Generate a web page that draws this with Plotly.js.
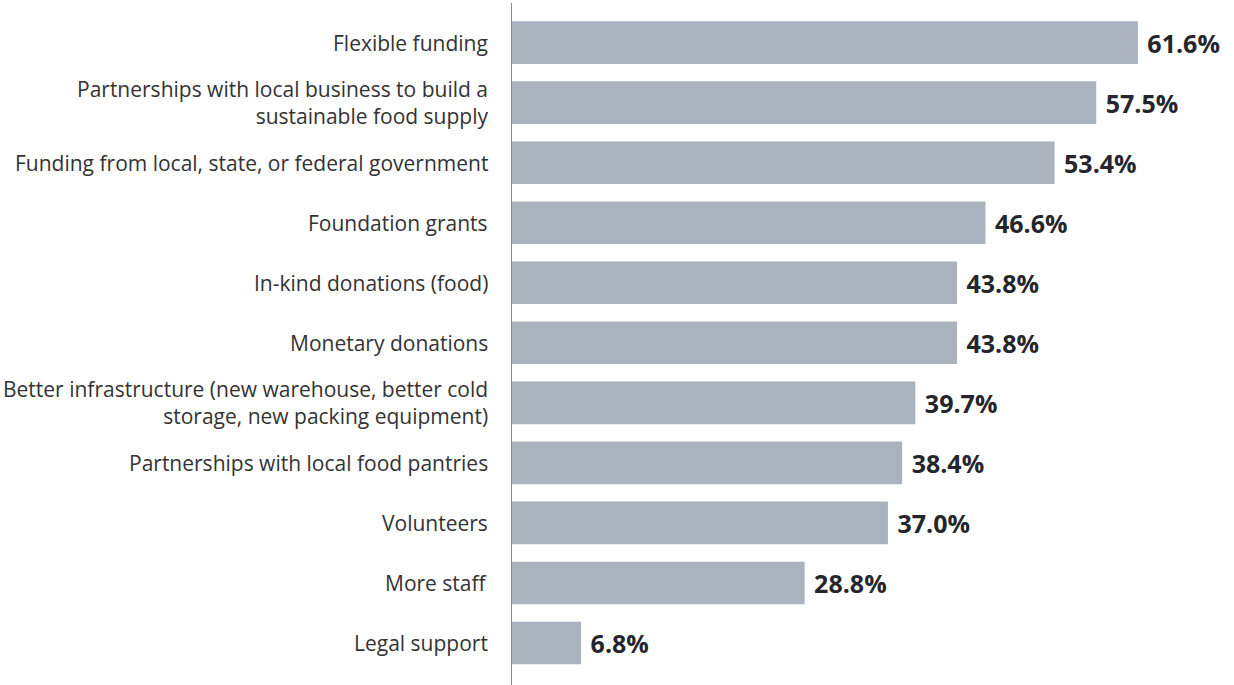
<!DOCTYPE html>
<html>
<head>
<meta charset="utf-8">
<script src="https://cdn.plot.ly/plotly-3.0.1.min.js"></script>
<style>html,body{margin:0;padding:0;background:#fff;}#chart{width:1234px;height:685px;}</style>
</head>
<body>
<div id="chart"></div>
<script>
const categories = [
  "Flexible funding",
  "Partnerships with local business to build a<br>sustainable food supply",
  "Funding from local, state, or federal government",
  "Foundation grants",
  "In-kind donations (food)",
  "Monetary donations",
  "Better infrastructure (new warehouse, better cold<br>storage, new packing equipment)",
  "Partnerships with local food pantries",
  "Volunteers",
  "More staff",
  "Legal support"
];
const values = [61.6, 57.5, 53.4, 46.6, 43.8, 43.8, 39.7, 38.4, 37.0, 28.8, 6.8];

const trace = {
  type: 'bar',
  orientation: 'h',
  y: categories,
  x: values,
  marker: {color: '#aab3bd'},
  text: values.map(v => '\u00a0' + v.toFixed(1) + '%'),
  textposition: 'outside',
  constraintext: 'none',
  cliponaxis: false,
  textfont: {family: 'Open Sans', size: 25, color: '#25262b', weight: 'bold'},
  hoverinfo: 'none'
};

// Category labels as right-aligned annotations next to the axis line
const annotations = categories.map(cat => ({
  xref: 'x', yref: 'y', x: 0, y: cat,
  xanchor: 'right', yanchor: 'middle', align: 'right',
  xshift: -22,
  text: cat, showarrow: false,
  font: {family: 'Open Sans', size: 21, color: '#333'}
}));

const layout = {
  width: 1234, height: 685,
  margin: {l: 512, r: 0, t: 3, b: 0},
  paper_bgcolor: '#fff', plot_bgcolor: '#fff',
  showlegend: false,
  bargap: 0.29,
  font: {family: 'Open Sans', color: '#333'},
  xaxis: {range: [0, 71.06], visible: false, showgrid: false, zeroline: false},
  yaxis: {
    type: 'category',
    range: [10.7, -0.66],
    showline: true, linecolor: '#8c8c8c', linewidth: 1.5,
    showgrid: false, zeroline: false,
    showticklabels: false, ticks: ''
  },
  annotations: annotations
};

Plotly.newPlot('chart', [trace], layout, {displayModeBar: false, staticPlot: true});
</script>
</body>
</html>
